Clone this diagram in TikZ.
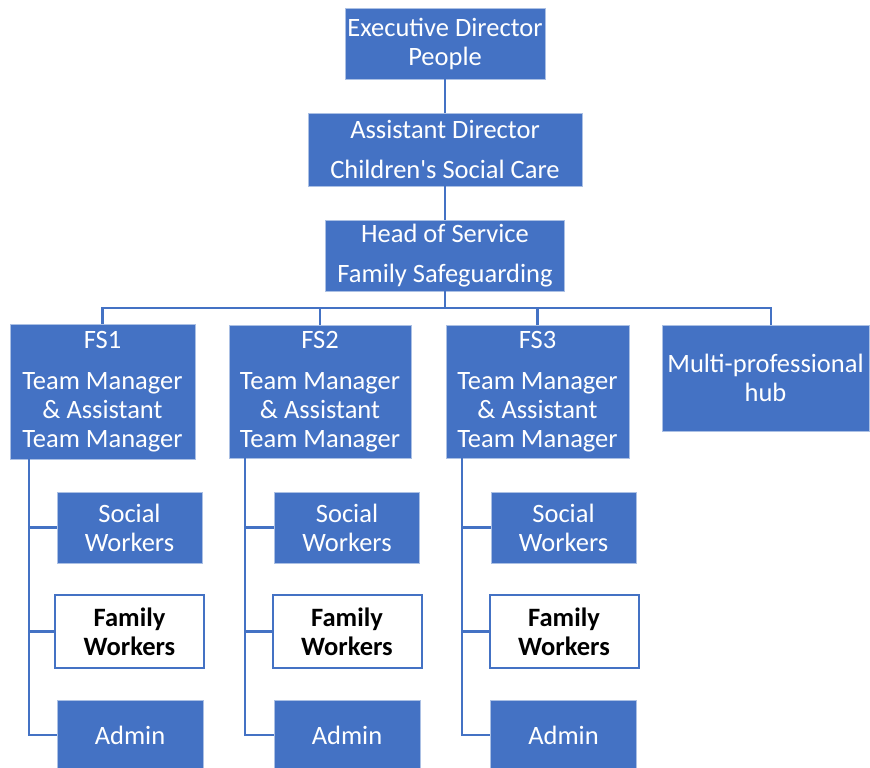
\documentclass[tikz,border=0pt]{standalone}
\usepackage{fontspec}
\setmainfont{Carlito}[Ligatures=TeXOff]
\definecolor{boxblue}{HTML}{4472C4}

\tikzstyle{block} = [ draw=boxblue!45!white,line width=0.4pt,fill=boxblue,text=white,
                      align=center,inner sep=0pt,
                      font=\fontsize{13.25}{14.5}\selectfont]
\tikzstyle{wblock} = [ block,draw=boxblue,line width=1pt,fill=white,text=black,
                       font=\fontsize{13.25}{14.5}\selectfont\bfseries]
\tikzstyle{link} = [ draw=boxblue,line width=1.1pt]

\begin{document}
\begin{tikzpicture}[x=0.5pt,y=-0.5pt]
  \useasboundingbox (0,0) rectangle (870,767);
  \clip (0,0) rectangle (870,767);

  \node[block,minimum width=100pt,minimum height=35.5pt] at (445,43.5) (exec)
       {Executive Director\\People};
  \node[block,minimum width=137pt,minimum height=36.5pt] at (445,149.5) (asst)
       {Assistant Director\\[5.5pt]Children's Social Care};
  \node[block,minimum width=119.5pt,minimum height=35.5pt] at (445,255.5) (head)
       {Head of Service\\[5.5pt]Family Safeguarding};

  \node[block,minimum width=92.5pt,minimum height=67.5pt] at (102.5,391.5) (fs1)
       {FS1\\[6pt]Team Manager\\\& Assistant\\Team Manager};
  \node[block,minimum width=91pt,minimum height=66.5pt] at (320,391.5) (fs2)
       {FS2\\[6pt]Team Manager\\\& Assistant\\Team Manager};
  \node[block,minimum width=91.5pt,minimum height=66.5pt] at (537.5,391.5) (fs3)
       {FS3\\[6pt]Team Manager\\\& Assistant\\Team Manager};
  \node[block,minimum width=103.5pt,minimum height=53pt] at (765.5,378) (hub)
       {Multi-professional\\hub};

  \node[block,minimum width=72.5pt,minimum height=35.5pt] at (129.5,527.5) (sw1) {Social\\Workers};
  \node[wblock,minimum width=74.5pt,minimum height=36.5pt] at (129.5,631.5) (fw1) {Family\\Workers};
  \node[block,minimum width=73pt,minimum height=35pt] at (130,735) (ad1) {Admin};

  \node[block,minimum width=72.5pt,minimum height=35.5pt] at (347,527.5) (sw2) {Social\\Workers};
  \node[wblock,minimum width=74.5pt,minimum height=36.5pt] at (347,631.5) (fw2) {Family\\Workers};
  \node[block,minimum width=73pt,minimum height=35pt] at (347,735) (ad2) {Admin};

  \node[block,minimum width=72.5pt,minimum height=35.5pt] at (563.5,527.5) (sw3) {Social\\Workers};
  \node[wblock,minimum width=74.5pt,minimum height=36.5pt] at (564,631.5) (fw3) {Family\\Workers};
  \node[block,minimum width=73pt,minimum height=35pt] at (563.5,735) (ad3) {Admin};

  \coordinate (bus) at (445,308);
  \coordinate (hubtop) at (771,325);
  \coordinate (sp1) at (29,459);
  \coordinate (sp2) at (245,458);
  \coordinate (sp3) at (462,458);

  \draw[link] (exec) -- (asst);
  \draw[link] (asst) -- (head);
  \draw[link] (head.south) -- (bus);
  \draw[link] (fs1.north) -- (fs1.north |- bus) -- (bus -| hubtop) -- (hubtop);
  \draw[link] (fs2.north) -- (fs2.north |- bus);
  \draw[link] (fs3.north) -- (fs3.north |- bus);

  \draw[link] (sp1) |- (ad1.west);
  \draw[link] (sw1.west) -- (sw1.west -| sp1);
  \draw[link] (fw1.west) -- (fw1.west -| sp1);
  \draw[link] (sp2) |- (ad2.west);
  \draw[link] (sw2.west) -- (sw2.west -| sp2);
  \draw[link] (fw2.west) -- (fw2.west -| sp2);
  \draw[link] (sp3) |- (ad3.west);
  \draw[link] (sw3.west) -- (sw3.west -| sp3);
  \draw[link] (fw3.west) -- (fw3.west -| sp3);
\end{tikzpicture}
\end{document}
